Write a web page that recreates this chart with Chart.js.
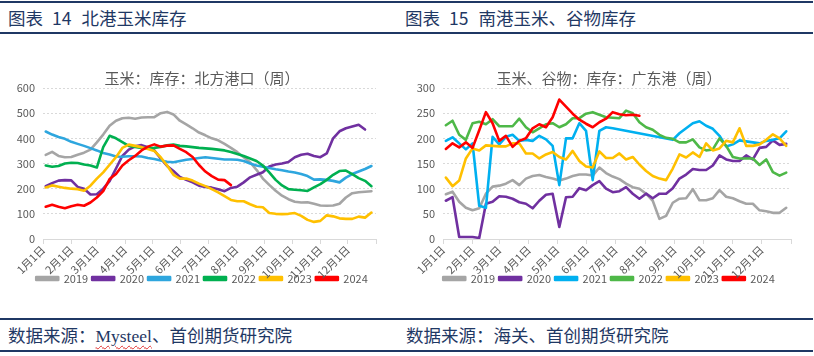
<!DOCTYPE html>
<html>
<head>
<meta charset="utf-8">
<script src="https://cdn.jsdelivr.net/npm/chart.js@4.4.1/dist/chart.umd.min.js"></script>
<style>
  html,body{margin:0;padding:0;background:#fff;}
  body{width:814px;height:356px;position:relative;overflow:hidden;font-family:"Noto Sans CJK SC","Noto Sans",sans-serif;}
  .bar{position:absolute;border-top:2px solid #1F3864;border-bottom:2px solid #1F3864;color:#1F3864;white-space:nowrap;box-sizing:content-box;}
  .hdr{top:1px;height:29px;line-height:29px;font-size:17.5px;}
  .ftr{top:318px;height:30px;line-height:30px;font-size:17.5px;}
  .num{display:inline-block;margin:0 10px 0 9px;}
  .wavy{font-family:"Liberation Serif",serif;text-decoration:underline wavy #E03030;text-decoration-thickness:1px;text-underline-offset:3px;}
  canvas{position:absolute;}
</style>
</head>
<body>
<div class="bar hdr" style="left:0;width:401px;"><span style="margin-left:8px">图表<span class="num">14</span>北港玉米库存</span></div>
<div class="bar hdr" style="left:401px;width:412px;"><span style="margin-left:4px">图表<span class="num">15</span>南港玉米、谷物库存</span></div>
<canvas id="cN" width="404" height="273" style="left:0;top:36px;"></canvas>
<canvas id="cS" width="410" height="273" style="left:404px;top:36px;"></canvas>
<div class="bar ftr" style="left:0;width:401px;"><span style="margin-left:8px">数据来源：<span class="wavy">Mysteel</span>、首创期货研究院</span></div>
<div class="bar ftr" style="left:401px;width:412px;"><span style="margin-left:5px">数据来源：海关、首创期货研究院</span></div>
<script>
// ---------- x axis (days of year, weekly data) ----------
const monthStarts = [0, 31, 59, 90, 120, 151, 181, 212, 243, 273, 304, 334, 365];
const monthLabels = ['1月1日','2月1日','3月1日','4月1日','5月1日','6月1日','7月1日','8月1日','9月1日','10月1日','11月1日','12月1日',''];
const years = ['2019','2020','2021','2022','2023','2024'];

// ---------- 北方港口 玉米库存 (weekly) ----------
const north2019 = [334,346,330,325,326,335,343,355,384,415,450,470,480,482,478,483,484,484,500,505,495,470,455,440,423,412,400,392,378,362,345,325,305,275,240,215,192,172,158,148,145,146,140,133,132,133,140,165,182,186,188,190];
const north2020 = [210,222,232,234,233,207,200,177,178,200,230,280,330,355,368,373,365,352,320,290,270,247,235,225,212,207,204,198,190,203,208,225,245,255,265,288,296,300,306,325,335,339,330,325,340,400,428,440,447,454,435];
const north2021 = [427,415,405,398,386,378,370,361,352,342,336,328,327,329,329,328,322,318,312,307,305,310,315,318,322,325,322,319,316,316,315,310,300,292,287,282,277,273,268,264,258,250,236,237,235,231,225,244,258,268,278,290];
const north2022 = [292,287,290,300,303,302,296,292,284,365,410,400,385,370,366,362,360,362,366,372,375,370,368,365,362,360,358,355,352,346,338,330,320,310,292,265,235,213,198,196,194,191,205,218,235,255,270,272,258,242,231,210];
const north2023 = [205,213,208,203,200,198,192,212,240,265,295,325,362,375,370,365,358,350,325,292,255,240,240,232,220,210,198,185,170,155,150,150,138,128,126,103,100,99,100,103,92,76,68,72,94,90,82,80,80,89,85,105];
const north2024 = [128,136,128,122,130,136,132,145,165,190,238,258,292,313,330,352,367,376,367,371,372,358,345,326,294,268,250,236,234,214];

// ---------- 广东港 玉米、谷物库存 (weekly) ----------
const south2019 = [89,94,74,62,57,61,90,104,106,110,117,107,120,125,127,123,120,116,120,125,128,128,126,142,131,124,119,110,103,100,90,76,40,46,72,80,81,99,77,77,81,97,84,81,75,70,70,57,55,52,52,62];
const south2020 = [76,83,4,4,4,2,70,74,85,84,80,73,70,61,76,88,90,24,83,84,101,97,107,115,100,93,95,103,90,80,90,81,90,90,101,120,128,139,137,137,146,166,158,155,155,166,158,181,183,196,187,189];
const south2021 = [195,202,190,178,190,66,62,203,188,203,207,195,197,195,205,198,185,107,200,200,230,215,117,215,222,220,null,null,null,null,null,null,null,null,197,210,220,230,234,225,219,205,184,188,196,194,192,190,195,197,200,214];
const south2022 = [226,235,207,197,230,233,228,238,224,224,224,239,222,212,220,228,230,222,228,240,240,249,252,247,242,241,240,255,250,232,222,217,207,201,199,192,192,198,182,176,178,200,185,163,160,160,160,147,158,133,126,132];
const south2023 = [122,105,116,160,180,176,186,185,184,184,190,190,170,170,160,168,173,163,158,175,155,144,142,174,161,161,170,158,163,148,135,125,120,117,140,168,162,172,163,190,176,180,195,192,220,185,185,188,197,208,200,185];
const south2024 = [179,190,182,192,181,216,252,230,195,205,183,195,200,220,228,222,242,277,263,249,237,229,222,232,239,252,248,246,247,245];

const northColors = ['#A5A5A5','#7030A0','#2EA6DE','#00B050','#FFC000','#FF0000'];
const southColors = ['#A5A5A5','#7030A0','#00B0F0','#4EB848','#FFC000','#FF0000'];

const weekDay = i => 3 + 7 * i;   // weekly observation -> day of year

Chart.defaults.font.family = '"Noto Sans CJK SC","Noto Sans",sans-serif';
Chart.defaults.color = '#595959';

const X_AXIS_H = 45;
const LEGEND_SHIFT = -15;   // legend overlaps the lower part of the tick-label band
const legendNudge = {
  id: 'legendNudge',
  afterLayout(chart) {
    const lg = chart.legend;
    if (lg) { lg.top += LEGEND_SHIFT; lg.bottom += LEGEND_SHIFT; }
  }
};

function makeChart(canvasId, title, seriesList, colors, yMax, yStep, leftWidth, rightWidth) {
  const datasets = seriesList.map((vals, k) => ({
    label: years[k],
    data: vals.map((v, i) => ({x: weekDay(i), y: v})),
    borderColor: colors[k],
    backgroundColor: colors[k],
    borderWidth: 2.6,
    pointRadius: 0,
    tension: 0,
    spanGaps: true,
    borderJoinStyle: 'round',
    borderCapStyle: 'round',
    order: seriesList.length - k
  }));
  return new Chart(document.getElementById(canvasId), {
    type: 'line',
    data: {datasets},
    plugins: [legendNudge],
    options: {
      responsive: false,
      animation: false,
      devicePixelRatio: 1,
      layout: {padding: {left: 0, right: 0, top: 0, bottom: 0}},
      plugins: {
        title: {
          display: true, text: title, color: '#595959',
          font: {size: 15, weight: 'normal'},
          padding: {top: 33, bottom: 1}
        },
        legend: {
          position: 'bottom',
          labels: {
            boxWidth: 22, boxHeight: 3, padding: 4,
            color: '#595959', font: {size: 11},
            sort: (a, b) => a.datasetIndex - b.datasetIndex
          }
        },
        tooltip: {enabled: false}
      },
      scales: {
        x: {
          type: 'linear', min: 0, max: 365,
          afterBuildTicks: s => { s.ticks = monthStarts.map(v => ({value: v})); },
          afterFit: s => { s.height = X_AXIS_H; },
          ticks: {
            autoSkip: false, minRotation: 45, maxRotation: 45,
            font: {size: 11}, color: '#595959', padding: -1,
            callback: (v, i) => monthLabels[i]
          },
          grid: {drawOnChartArea: false, drawTicks: true, tickLength: 5, color: '#D9D9D9'},
          border: {display: true, color: '#D9D9D9'}
        },
        y: {
          min: 0, max: yMax,
          afterFit: s => { s.width = leftWidth; },
          ticks: {stepSize: yStep, font: {size: 11}, color: '#595959', padding: 8},
          grid: {color: '#D9D9D9', drawTicks: false},
          border: {display: false, dash: [2, 2]}
        },
        yPad: {
          position: 'right', display: true,
          ticks: {display: false}, grid: {display: false}, border: {display: false},
          afterFit: s => { s.width = rightWidth; }
        }
      }
    }
  });
}

makeChart('cN', '玉米：库存：北方港口（周）',
  [north2019, north2020, north2021, north2022, north2023, north2024],
  northColors, 600, 100, 43, 28);
makeChart('cS', '玉米、谷物：库存：广东港（周）',
  [south2019, south2020, south2021, south2022, south2023, south2024],
  southColors, 300, 50, 39, 23);
</script>
</body>
</html>
